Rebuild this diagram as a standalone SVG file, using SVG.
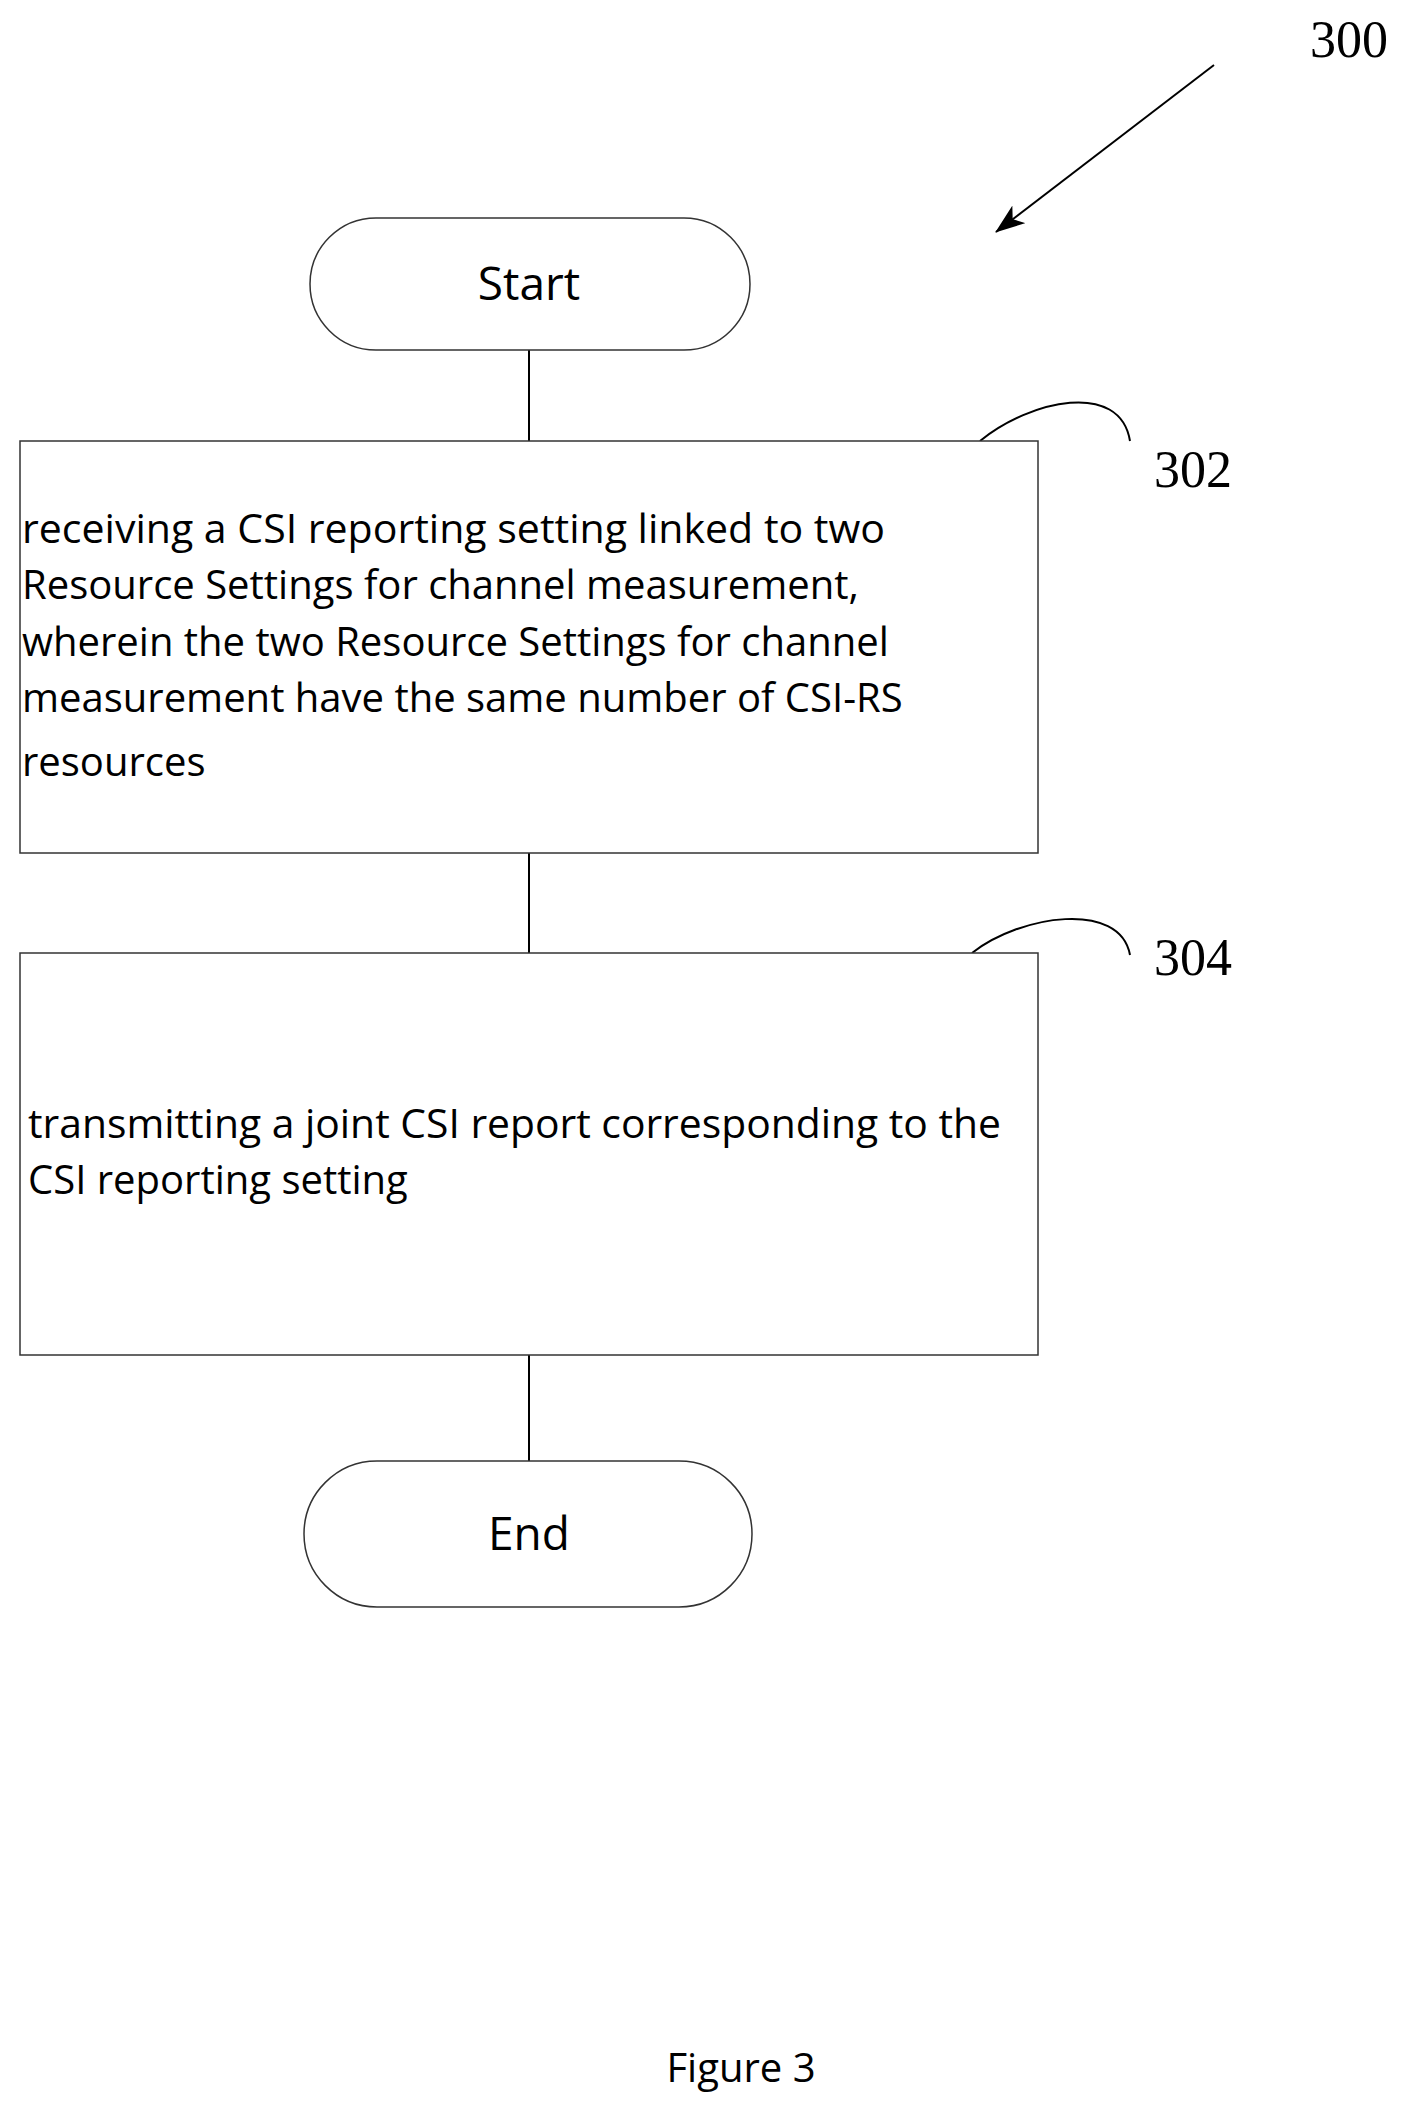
<svg xmlns="http://www.w3.org/2000/svg" width="1413" height="2117" viewBox="0 0 1413 2117">
<defs><marker id="ah" markerWidth="30" markerHeight="22" refX="29" refY="11" orient="auto" markerUnits="userSpaceOnUse" viewBox="0 0 30 22"><path d="M0,0 L30,11 L0,22 L8,11 z" fill="#000"/></marker></defs>
<style>
.s{fill:#fff;stroke:#333;stroke-width:1.5}
.t{font-family:"Open Sans","Liberation Sans",sans-serif;font-size:40px;fill:#000}
.b{font-size:46px}
.n{font-family:"Liberation Serif",serif;font-size:52px;fill:#000}
.c{fill:none;stroke:#000;stroke-width:2}
</style>
<rect width="1413" height="2117" fill="#fff"/>
<g id="connectors">
<line class="c" x1="529" y1="350" x2="529" y2="441" stroke="#555"/>
<line class="c" x1="529" y1="853" x2="529" y2="953" stroke="#555"/>
<line class="c" x1="529" y1="1355" x2="529" y2="1461" stroke="#555"/>
<line class="c" x1="1214" y1="65" x2="996" y2="232" marker-end="url(#ah)"/>
<path class="c" d="M980,441 C1030,400 1120,380 1130,441"/>
<path class="c" d="M972,953 C1020,915 1120,900 1130,955"/>
</g>
<g id="start"><rect class="s" x="310" y="218" width="440" height="132" rx="66"/><text class="t b" x="529" y="300" text-anchor="middle">Start</text></g>
<g id="step302"><rect class="s" x="20" y="441" width="1018" height="412"/>
<text class="t" x="22" y="543" textLength="863" lengthAdjust="spacingAndGlyphs">receiving a CSI reporting setting linked to two</text>
<text class="t" x="22" y="599">Resource Settings for channel measurement,</text>
<text class="t" x="22" y="656">wherein the two Resource Settings for channel</text>
<text class="t" x="22" y="712">measurement have the same number of CSI-RS</text>
<text class="t" x="22" y="776">resources</text></g>
<g id="step304"><rect class="s" x="20" y="953" width="1018" height="402"/>
<text class="t" x="28" y="1138" textLength="973" lengthAdjust="spacingAndGlyphs">transmitting a joint CSI report corresponding to the</text>
<text class="t" x="28" y="1194">CSI reporting setting</text></g>
<g id="end"><rect class="s" x="304" y="1461" width="448" height="146" rx="73"/><text class="t b" x="529" y="1550" text-anchor="middle">End</text></g>
<g id="labels">
<text class="n" x="1310" y="57">300</text>
<text class="n" x="1154" y="487">302</text>
<text class="n" x="1154" y="975">304</text>
<text class="t" x="741" y="2082" text-anchor="middle" font-size="42">Figure 3</text>
</g>
</svg>
